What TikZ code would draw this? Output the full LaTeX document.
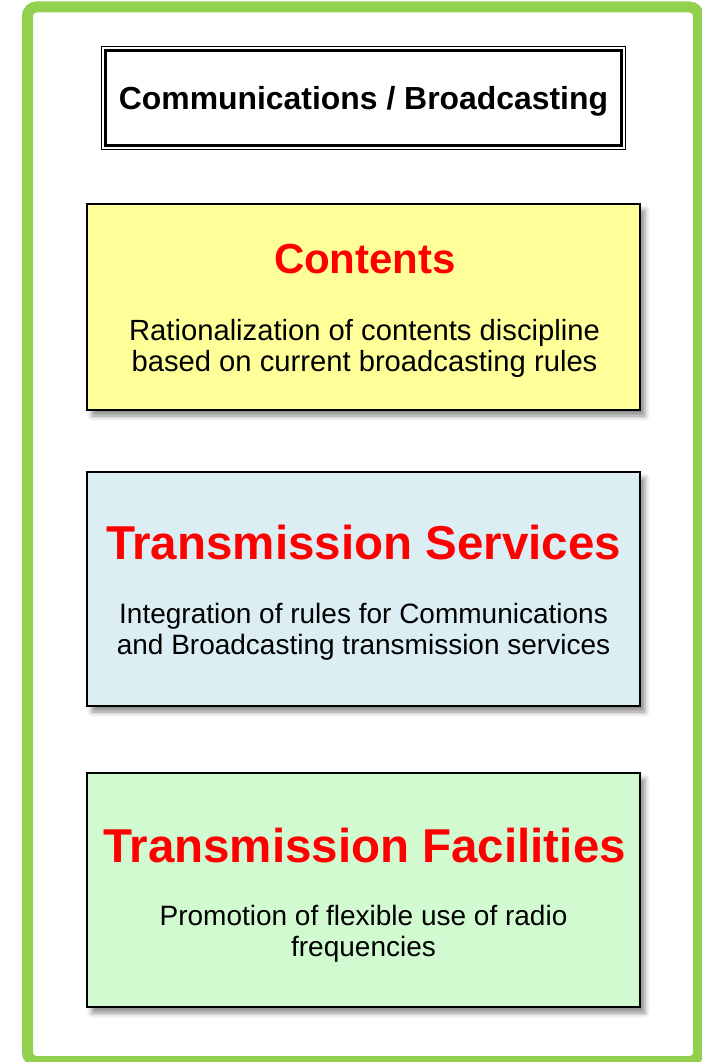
\documentclass[tikz,border=0pt]{standalone}
\usepackage{fontspec}
\setmainfont{Liberation Sans}
\usetikzlibrary{shadows.blur}
\definecolor{framegreen}{HTML}{92D050}
\definecolor{yellowfill}{HTML}{FFFF99}
\definecolor{bluefill}{HTML}{DAEEF3}
\definecolor{greenfill}{HTML}{D2FAD0}
\definecolor{headred}{HTML}{FF0000}
\tikzset{
  panel/.style={draw=black, line width=2.8pt, minimum width=553pt, inner sep=0pt,
    blur shadow={shadow xshift=5pt, shadow yshift=-6pt, shadow blur radius=5pt, shadow opacity=45}},
  headtext/.style={text=headred, font=\fontsize{47.5}{52}\selectfont\bfseries, inner sep=0pt},
  smallhead/.style={text=headred, font=\fontsize{42}{48}\selectfont\bfseries, inner sep=0pt},
  bodytext/.style={text=black, font=\fontsize{28}{31}\selectfont, align=center, inner sep=0pt},
  widebody/.style={text=black, font=\fontsize{29.2}{31}\selectfont, align=center, inner sep=0pt},
}
\begin{document}
\begin{tikzpicture}[x=1pt,y=-1pt]
\useasboundingbox (0,0) rectangle (701,1062);
% outer green frame
\draw[framegreen, line width=11pt, rounded corners=9pt] (27.5,7) rectangle (698.5,1061.5);
% title box
\node[draw=black, line width=1.7pt, minimum width=524pt, minimum height=103pt, inner sep=0pt] (title) at (363.5,98) {};
\draw[line width=2.7pt] ([xshift=4.8pt,yshift=-4.8pt]title.north west) rectangle ([xshift=-4.8pt,yshift=4.8pt]title.south east);
\node[anchor=base, inner sep=0pt, font=\fontsize{31.9}{36}\selectfont\bfseries] (titleText) at (363.5,110) {Communications / Broadcasting};
% panels
\node[panel, fill=yellowfill, minimum height=206pt] (contents) at (363.5,307) {};
\node[panel, fill=bluefill, minimum height=234pt] (services) at (363.5,589) {};
\node[panel, fill=greenfill, minimum height=234pt] (facilities) at (363.5,890) {};
% texts
\node[smallhead, anchor=base] (contentsHead) at (365,273) {Contents};
\node[widebody, anchor=base] (contentsBody) at (364.5,371) {Rationalization of contents discipline\\based on current broadcasting rules};
\node[headtext, anchor=base] (servicesHead) at (363.5,559) {Transmission Services};
\node[bodytext, anchor=base] (servicesBody) at (363.5,654) {Integration of rules for Communications\\and Broadcasting transmission services};
\node[headtext, anchor=base] (facilitiesHead) at (364.5,862) {Transmission Facilities};
\node[bodytext, anchor=base] (facilitiesBody) at (363.5,956) {Promotion of flexible use of radio\\frequencies};
\end{tikzpicture}
\end{document}
